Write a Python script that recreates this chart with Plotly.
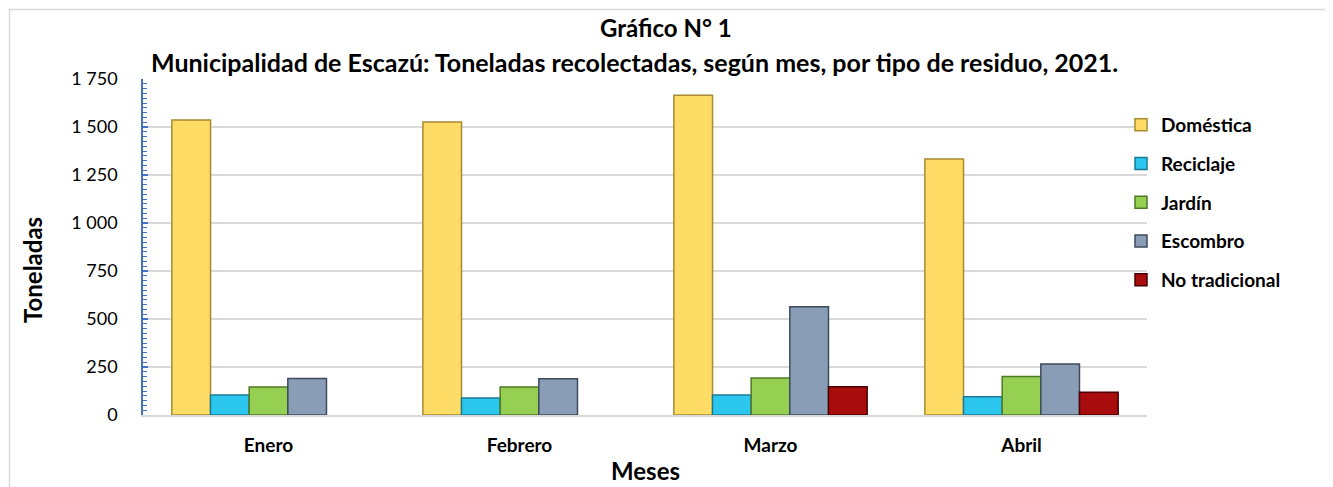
import plotly.graph_objects as go

meses = ["Enero", "Febrero", "Marzo", "Abril"]
domestica = [1536, 1526, 1665, 1333]
reciclaje = [104, 88, 104, 95]
jardin = [146, 146, 193, 200]
escombro = [190, 189, 564, 266]
no_tradicional = [None, None, 147, 118]

series = [
    ("Doméstica", domestica, "#FFDC66", "#A88A30"),
    ("Reciclaje", reciclaje, "#2CC7EE", "#1A7A96"),
    ("Jardín", jardin, "#95D052", "#4F7A25"),
    ("Escombro", escombro, "#8A9DB6", "#3E4A5C"),
    ("No tradicional", no_tradicional, "#A80C0C", "#4A0000"),
]

OFF = 8  # page body margin
W, H = 1333 - OFF, 487 - OFF
L, R, T, B = 143, 1147, 79, 415  # plot area in screen pixels


def px(x):
    return (x - L) / (R - L)


def py(y):
    return (B - y) / (B - T)


fig = go.Figure()
for name, vals, face, edge in series:
    fig.add_trace(go.Bar(
        x=meses, y=vals, name=name, legendgroup=name,
        marker=dict(color=face, line=dict(color=edge, width=1.5)),
    ))

fonts = "Lato, 'Open Sans', Arial, sans-serif"
fig.update_layout(
    width=W, height=H,
    margin=dict(l=L - OFF, r=1333 - R, t=T - OFF, b=487 - B, pad=0),
    paper_bgcolor="white", plot_bgcolor="white",
    separators=", ",
    barmode="group", bargap=0.23, bargroupgap=0,
    font=dict(family=fonts, color="black"),
    showlegend=True,
    legend=dict(
        x=px(1121), y=py(106), xanchor="left", yanchor="top",
        font=dict(size=19, family=fonts, color="black", weight="bold"),
        traceorder="grouped", tracegroupgap=11, itemwidth=30,
        bgcolor="rgba(0,0,0,0)",
    ),
    xaxis=dict(
        showline=True, linecolor="#D9D9D9", linewidth=1.5,
        ticks="", tickfont=dict(size=19, weight="bold"),
        ticklabelstandoff=12,
        showgrid=False,
    ),
    yaxis=dict(
        range=[0, 1750], tickvals=[0, 250, 500, 750, 1000, 1250, 1500, 1750],
        tickformat=",d",
        showline=True, linecolor="#4472C4", linewidth=1.5,
        ticks="inside", ticklen=5, tickcolor="#4472C4", tickwidth=1.5,
        minor=dict(dtick=25, ticks="inside", ticklen=4, tickcolor="#4472C4", tickwidth=1.2, showgrid=False),
        showgrid=True, gridcolor="#D9D9D9", gridwidth=1.5,
        tickfont=dict(size=18),
        ticklabelstandoff=20,
        zeroline=False,
    ),
    annotations=[
        dict(text="Gráfico N° 1", x=px(666), y=py(27), xref="paper", yref="paper",
             showarrow=False, xanchor="center", yanchor="middle",
             font=dict(size=24, weight="bold")),
        dict(text="Municipalidad de Escazú: Toneladas recolectadas, según mes, por tipo de residuo, 2021.",
             x=px(634), y=py(62), xref="paper", yref="paper",
             showarrow=False, xanchor="center", yanchor="middle",
             font=dict(size=25, weight="bold")),
        dict(text="Toneladas", x=px(32), y=py(270), xref="paper", yref="paper",
             showarrow=False, xanchor="center", yanchor="middle", textangle=-90,
             font=dict(size=24, weight="bold")),
        dict(text="Meses", x=px(645), y=py(470), xref="paper", yref="paper",
             showarrow=False, xanchor="center", yanchor="middle",
             font=dict(size=24, weight="bold")),
    ],
    shapes=[
        dict(type="rect", xref="paper", yref="paper",
             x0=px(9.5), x1=px(1328), y0=py(520), y1=py(9.5),
             line=dict(color="#D9D9D9", width=1.5), fillcolor="rgba(0,0,0,0)", layer="below"),
    ],
)

fig.write_html("out.html")
